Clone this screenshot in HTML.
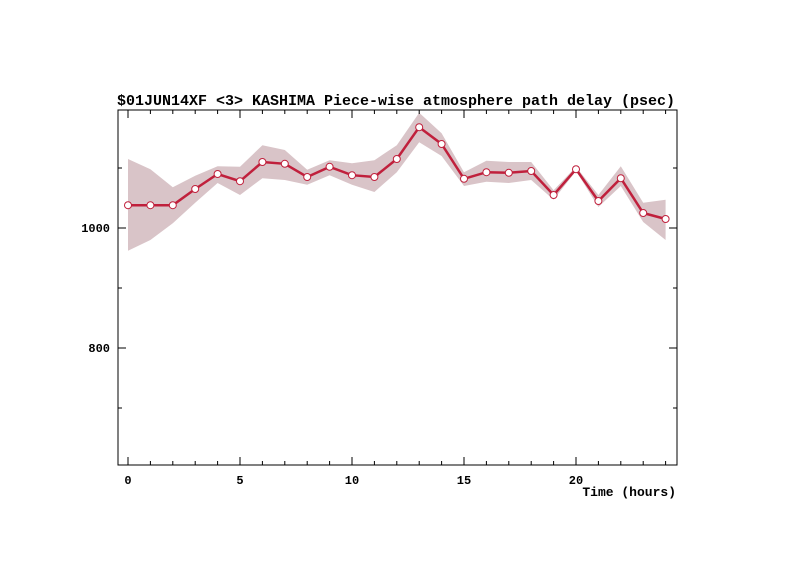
<!DOCTYPE html>
<html><head><meta charset="utf-8"><style>
body{margin:0;background:#fff;}
svg text{font-family:"Liberation Mono","DejaVu Sans Mono",monospace;font-weight:bold;fill:#000;}
</style></head><body>
<svg id="chart" width="794" height="577" xmlns="http://www.w3.org/2000/svg">
<rect width="794" height="577" fill="#fff"/>
<text x="396" y="105" font-size="15" text-anchor="middle">$01JUN14XF &lt;3&gt;  KASHIMA   Piece-wise atmosphere path delay (psec)</text>
<g id="band"></g>
<g id="axes"></g>
<g id="series"></g>
<text x="676" y="496" font-size="13" text-anchor="end">Time (hours)</text>
</svg>
<script>
const hours=[0,1,2,3,4,5,6,7,8,9,10,11,12,13,14,15,16,17,18,19,20,21,22,23,24];
const delay=[1038,1038,1038,1065,1090,1078,1110,1107,1085,1102,1088,1085,1115,1168,1140,1082,1093,1092,1095,1055,1098,1045,1083,1025,1015];
const upper=[1115,1098,1068,1087,1103,1102,1138,1130,1097,1113,1108,1113,1138,1192,1158,1093,1112,1110,1110,1063,1102,1055,1103,1042,1047];
const lower=[962,980,1008,1042,1075,1055,1083,1080,1072,1088,1072,1060,1093,1143,1120,1070,1077,1075,1080,1047,1095,1035,1070,1010,980];
const xTicks=[0,5,10,15,20];
const yMajor=[800,1000];
const yMinor=[700,900,1100];
const L=118,R=677,T=110,B=465;
const xs=h=>128+h*22.4;
const ys=v=>228-(v-1000)*0.6;
const NS="http://www.w3.org/2000/svg";
function mk(tag,parent,attrs){const e=document.createElementNS(NS,tag);for(const k in attrs)e.setAttribute(k,attrs[k]);parent.appendChild(e);return e;}
const band=document.getElementById('band'),axes=document.getElementById('axes'),series=document.getElementById('series');
let pts=hours.map((h,i)=>xs(h)+','+ys(upper[i]));
pts=pts.concat(hours.map((h,i)=>xs(h)+','+ys(lower[i])).reverse());
const poly=mk('polygon',band,{points:pts.join(' '),fill:'#d9c4c8'});


const frame=mk('rect',axes,{x:L,y:T,width:R-L,height:B-T,fill:'none',stroke:'#000','stroke-width':1});


hours.forEach(h=>{const len=xTicks.includes(h)?8:4;
 mk('line',axes,{x1:xs(h),x2:xs(h),y1:B,y2:B-len,stroke:'#000'});
 mk('line',axes,{x1:xs(h),x2:xs(h),y1:T,y2:T+len,stroke:'#000'});});
xTicks.forEach(h=>{const t=mk('text',axes,{x:xs(h),y:484,'font-size':12,'text-anchor':'middle'});t.textContent=h;
 
 });
yMajor.forEach(v=>{mk('line',axes,{x1:L,x2:L+8,y1:ys(v),y2:ys(v),stroke:'#000'});mk('line',axes,{x1:R,x2:R-8,y1:ys(v),y2:ys(v),stroke:'#000'});
 const t=mk('text',axes,{x:110,y:ys(v)+4,'font-size':12,'text-anchor':'end'});t.textContent=v;
 
 });
yMinor.forEach(v=>{mk('line',axes,{x1:L,x2:L+4,y1:ys(v),y2:ys(v),stroke:'#000'});mk('line',axes,{x1:R,x2:R-4,y1:ys(v),y2:ys(v),stroke:'#000'});});
const line=mk('polyline',series,{points:hours.map((h,i)=>xs(h)+','+ys(delay[i])).join(' '),fill:'none',stroke:'#c0203c','stroke-width':2.5});


hours.forEach((h,i)=>{const c=mk('circle',series,{cx:xs(h),cy:ys(delay[i]),r:3.5,fill:'#fff',stroke:'#c0203c','stroke-width':1});
 
 });
</script>
</body></html>
